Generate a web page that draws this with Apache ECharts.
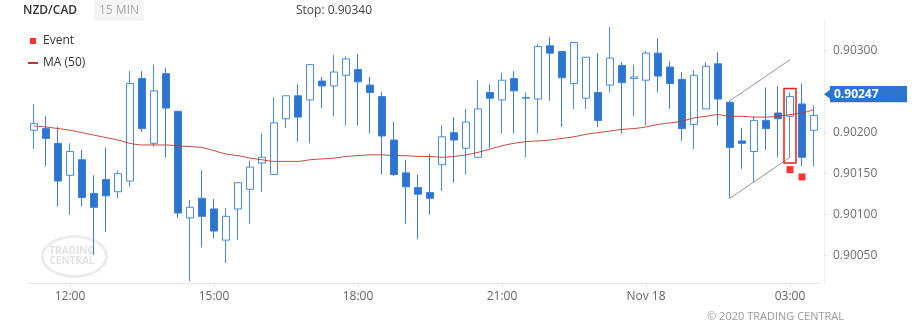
<!DOCTYPE html>
<html>
<head>
<meta charset="utf-8">
<style>
  html, body { margin: 0; padding: 0; background: #fff; }
  #chart { width: 917px; height: 332px; }
</style>
<script src="https://cdn.jsdelivr.net/npm/echarts@6/dist/echarts.min.js"></script>
</head>
<body>
<div id="chart"></div>
<script>
// NZD/CAD, 15-minute bars, Nov 17 11:15 to Nov 18 03:30
const times = [
  '11:15','11:30','11:45','12:00','12:15','12:30','12:45','13:00','13:15','13:30','13:45','14:00',
  '14:15','14:30','14:45','15:00','15:15','15:30','15:45','16:00','16:15','16:30','16:45','17:00',
  '17:15','17:30','17:45','18:00','18:15','18:30','18:45','19:00','19:15','19:30','19:45','20:00',
  '20:15','20:30','20:45','21:00','21:15','21:30','21:45','22:00','22:15','22:30','22:45','23:00',
  '23:15','23:30','23:45','00:00','00:15','00:30','00:45','01:00','01:15','01:30','01:45','02:00',
  '02:15','02:30','02:45','03:00','03:15','03:30'
];

const opens = [
  0.90203,0.90205,0.90187,0.90148,0.90167,0.90126,0.90143,0.90128,0.90141,0.90266,0.90187,0.90272,
  0.90226,0.90096,0.90120,0.90107,0.90069,0.90107,0.90131,0.90163,0.90149,0.90217,0.90245,0.90240,
  0.90263,0.90257,0.90270,0.90277,0.90258,0.90244,0.90191,0.90151,0.90133,0.90127,0.90161,0.90200,
  0.90181,0.90170,0.90249,0.90240,0.90266,0.90242,0.90241,0.90306,0.90299,0.90260,0.90242,0.90249,
  0.90258,0.90282,0.90266,0.90264,0.90297,0.90280,0.90265,0.90210,0.90229,0.90284,0.90237,0.90190,
  0.90177,0.90215,0.90224,0.90220,0.90235,0.90203
];
const closes = [
  0.90211,0.90193,0.90141,0.90177,0.90121,0.90109,0.90123,0.90150,0.90260,0.90205,0.90251,0.90230,
  0.90102,0.90109,0.90098,0.90080,0.90098,0.90139,0.90158,0.90170,0.90212,0.90245,0.90219,0.90283,
  0.90257,0.90274,0.90290,0.90262,0.90249,0.90196,0.90149,0.90134,0.90125,0.90120,0.90195,0.90191,
  0.90213,0.90229,0.90242,0.90264,0.90251,0.90243,0.90305,0.90297,0.90267,0.90310,0.90292,0.90215,
  0.90291,0.90261,0.90268,0.90297,0.90269,0.90260,0.90205,0.90270,0.90281,0.90241,0.90182,0.90187,
  0.90215,0.90205,0.90217,0.90244,0.90170,0.90221
];
const lows = [
  0.90180,0.90159,0.90110,0.90100,0.90110,0.90051,0.90079,0.90120,0.90134,0.90201,0.90183,0.90170,
  0.90096,0.90019,0.90060,0.90071,0.90041,0.90069,0.90089,0.90128,0.90149,0.90206,0.90189,0.90187,
  0.90230,0.90220,0.90209,0.90209,0.90199,0.90149,0.90147,0.90089,0.90070,0.90100,0.90129,0.90139,
  0.90149,0.90170,0.90181,0.90199,0.90199,0.90170,0.90199,0.90239,0.90207,0.90229,0.90229,0.90207,
  0.90249,0.90199,0.90220,0.90209,0.90249,0.90229,0.90190,0.90180,0.90229,0.90209,0.90120,0.90156,
  0.90140,0.90179,0.90170,0.90170,0.90159,0.90159
];
const highs = [
  0.90235,0.90220,0.90207,0.90187,0.90179,0.90148,0.90182,0.90154,0.90275,0.90275,0.90283,0.90279,
  0.90227,0.90118,0.90154,0.90119,0.90108,0.90139,0.90166,0.90199,0.90243,0.90245,0.90259,0.90283,
  0.90268,0.90295,0.90293,0.90296,0.90268,0.90250,0.90213,0.90167,0.90149,0.90174,0.90209,0.90219,
  0.90229,0.90264,0.90259,0.90273,0.90275,0.90249,0.90308,0.90317,0.90299,0.90310,0.90292,0.90297,
  0.90329,0.90286,0.90283,0.90300,0.90315,0.90287,0.90274,0.90276,0.90286,0.90298,0.90239,0.90206,
  0.90220,0.90255,0.90257,0.90249,0.90260,0.90233
];

// 50-period moving average
const ma50 = [
  0.90208,0.90207,0.90205,0.90203,0.90200,0.90197,0.90194,0.90191,0.90187,0.90185,0.90185,0.90185,
  0.90184,0.90183,0.90182,0.90178,0.90174,0.90172,0.90169,0.90167,0.90165,0.90165,0.90165,0.90167,
  0.90168,0.90169,0.90171,0.90172,0.90173,0.90173,0.90172,0.90172,0.90171,0.90171,0.90170,0.90171,
  0.90173,0.90176,0.90180,0.90184,0.90187,0.90189,0.90190,0.90191,0.90193,0.90195,0.90198,0.90200,
  0.90202,0.90204,0.90205,0.90207,0.90210,0.90212,0.90214,0.90218,0.90220,0.90222,0.90220,0.90220,
  0.90219,0.90219,0.90220,0.90222,0.90224,0.90228
];

// Event markers: [bar time, price]
const events = [['03:00', 0.90155], ['03:15', 0.90146]];

// Rising channel drawn from 01:45 to 03:00
const channelUpper = [['01:45', 0.90239], ['03:00', 0.90289]];
const channelLower = [['01:45', 0.90120], ['03:00', 0.90170]];

// Highlighted bar: [bar time, top, bottom]
const highlightBar = [['03:00', 0.90254, 0.90163]];

// Last price tag
const lastPrice = [['03:30', 0.90247]];
const stopLevel = 0.90340;

// Axis ticks
const priceTicks = [0.90050, 0.90100, 0.90150, 0.90200, 0.90300];
const timeTicks = ['12:00', '15:00', '18:00', '21:00', '00:00', '03:00'];
const timeTickNames = { '00:00': 'Nov 18' };

const FONT = 'Open Sans';
const BLUE = '#2b74d0';
const MA_RED = '#bb3a2e';

const candles = opens.map((o, i) => [o, closes[i], lows[i], highs[i]]);

const chart = echarts.init(document.getElementById('chart'), null, { renderer: 'canvas' });

chart.setOption({
  animation: false,
  backgroundColor: '#ffffff',
  textStyle: { fontFamily: FONT },
  title: [
    { text: 'NZD/CAD', left: 23, top: 5, padding: 0,
      textStyle: { fontSize: 12, fontWeight: 600, color: '#333', fontFamily: FONT } },
    { text: '15 MIN', left: 94, top: 0, padding: [3, 5],
      backgroundColor: '#f5f5f5', borderRadius: 3,
      textStyle: { fontSize: 12, fontWeight: 'normal', color: '#aaaaaa', lineHeight: 15, fontFamily: FONT } },
    { text: 'Stop: ' + stopLevel.toFixed(5), left: 296, top: 5, padding: 0,
      textStyle: { fontSize: 12, fontWeight: 'normal', color: '#444', fontFamily: FONT } },
    { text: '© 2020 TRADING CENTRAL', right: 73, top: 311, padding: 0,
      textStyle: { fontSize: 11, fontWeight: 'normal', color: '#9a9a9a', fontFamily: FONT } }
  ],
  legend: {
    orient: 'vertical', left: 28, top: 35, padding: 0, itemWidth: 10, itemHeight: 6, itemGap: 10,
    selectedMode: false,
    symbolKeepAspect: true,
    textStyle: { fontSize: 12, color: '#333', fontFamily: FONT },
    data: [
      { name: 'Event', icon: 'path://M0,0h6v6h-6z', itemStyle: { color: '#ff0000' } },
      { name: 'MA (50)', icon: 'path://M0,0h10v2h-10z', itemStyle: { color: MA_RED } }
    ]
  },
  graphic: [
    { type: 'ellipse', shape: { cx: 74.5, cy: 256.5, rx: 32, ry: 20 }, silent: true, z: -1,
      style: { fill: 'none', stroke: '#ececec', lineWidth: 3 } },
    { type: 'text', x: 72, y: 251, silent: true, z: -1,
      style: { text: 'TRADING', fill: '#e2e2e2', font: 'bold 10px "Open Sans"', align: 'center', verticalAlign: 'middle' } },
    { type: 'text', x: 72, y: 261, silent: true, z: -1,
      style: { text: 'CENTRAL', fill: '#e2e2e2', font: 'bold 10px "Open Sans"', align: 'center', verticalAlign: 'middle' } }
  ],
  grid: { left: 28, right: 97, top: 20, bottom: 49 },
  xAxis: {
    type: 'category',
    data: times,
    boundaryGap: true,
    axisLine: { show: true, lineStyle: { color: '#e6e6e6' } },
    axisTick: { show: true, alignWithLabel: true, length: 4, lineStyle: { color: '#e0e0e0' },
      interval: (i, v) => timeTicks.includes(v) },
    axisLabel: {
      interval: (i, v) => timeTicks.includes(v),
      formatter: v => timeTickNames[v] || v,
      color: '#666', fontSize: 12, margin: 8, fontFamily: FONT
    },
    splitLine: { show: false }
  },
  yAxis: {
    type: 'value',
    position: 'right',
    offset: 4,
    min: 0.900167,
    max: 0.903374,
    scale: true,
    axisLine: { show: true, lineStyle: { color: '#eeeeee' } },
    axisTick: { show: true, length: 4, customValues: priceTicks, lineStyle: { color: '#e6e6e6' } },
    axisLabel: {
      customValues: priceTicks,
      formatter: v => v.toFixed(5),
      color: '#6f6f6f', fontSize: 12, margin: 9, fontFamily: FONT
    },
    splitLine: { show: false }
  },
  series: [
    {
      name: 'NZD/CAD',
      type: 'candlestick',
      data: candles,
      barWidth: 7,
      itemStyle: {
        color: '#ffffff',
        color0: BLUE,
        borderColor: '#4a8bdb',
        borderColor0: '#3b80d6',
        borderWidth: 1
      },
      markLine: {
        silent: true,
        symbol: ['none', 'none'],
        label: { show: false },
        lineStyle: { color: '#959595', width: 1, type: 'solid' },
        emphasis: { disabled: true },
        data: [
          [{ coord: channelUpper[0] }, { coord: channelUpper[1] }],
          [{ coord: channelLower[0] }, { coord: channelLower[1] }]
        ]
      },
      z: 2
    },
    {
      name: 'MA (50)',
      type: 'line',
      data: ma50,
      smooth: 0.3,
      symbol: 'none',
      showSymbol: false,
      lineStyle: { color: MA_RED, width: 1, opacity: 0.9 },
      itemStyle: { color: MA_RED },
      z: 3
    },
    {
      name: 'Event',
      type: 'scatter',
      data: events,
      symbol: 'rect',
      symbolSize: 7,
      itemStyle: { color: '#ff0000' },
      z: 4
    },
    {
      name: 'highlight',
      type: 'custom',
      data: highlightBar,
      encode: { x: 0, y: [1, 2] },
      clip: false,
      z: 5,
      renderItem: (params, api) => {
        const top = api.coord([api.value(0), api.value(1)]);
        const bottom = api.coord([api.value(0), api.value(2)]);
        const band = api.size([1, 0])[0];
        return {
          type: 'rect',
          shape: { x: top[0] - band / 2, y: top[1], width: band, height: bottom[1] - top[1] },
          style: { fill: 'none', stroke: '#e52020', lineWidth: 1.5 }
        };
      }
    },
    {
      name: 'last',
      type: 'custom',
      data: lastPrice,
      encode: { x: 0, y: 1 },
      clip: false,
      z: 6,
      renderItem: (params, api) => {
        const y = api.coord([api.value(0), api.value(1)])[1];
        const x0 = params.coordSys.x + params.coordSys.width;
        return {
          type: 'group',
          children: [
            { type: 'polygon', shape: { points: [[x0 + 4, y], [x0 + 10, y - 4.5], [x0 + 10, y + 4.5]] },
              style: { fill: BLUE } },
            { type: 'rect', shape: { x: x0 + 10, y: y - 8.2, width: 77, height: 16.4 },
              style: { fill: BLUE } },
            { type: 'text', x: x0 + 14, y: y,
              style: { text: api.value(1).toFixed(5), fill: '#ffffff', font: 'bold 12px "Open Sans"',
                verticalAlign: 'middle', align: 'left' } }
          ]
        };
      }
    }
  ]
});
</script>
</body>
</html>
